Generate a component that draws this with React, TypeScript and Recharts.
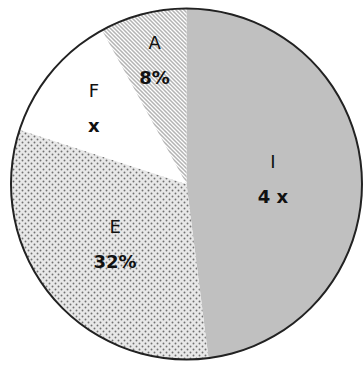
import React from 'react';
import { PieChart, Pie, Cell } from 'recharts';

const categories = ['I', 'E', 'F', 'A'];
const percents = [48, 32, 12, 8];
const valueLabels = ['4 x', '32%', 'x', '8%'];

const sliceFills: Record<string, string> = {
  I: '#c0c0c0',
  E: 'url(#dots)',
  F: '#ffffff',
  A: 'url(#hatch)',
};

const data = categories.map((name, i) => ({ name, value: percents[i], label: valueLabels[i] }));
const ring = [{ name: 'outline', value: 1 }];

const RAD = Math.PI / 180;

const renderLabel = (props: any) => {
  const { cx, cy, midAngle, outerRadius, percent, payload } = props;
  const p = percent;
  const r = outerRadius * (0.838 - 1.48 * p + 1.584 * p * p);
  const x = cx + r * Math.cos(-midAngle * RAD);
  const y = cy + r * Math.sin(-midAngle * RAD);
  const name = payload?.name ?? props.name;
  const lab = payload?.label ?? '';
  return (
    <g>
      <text x={x} y={y - 10.5} textAnchor="middle" fontFamily="DejaVu Sans" fontSize={18} fill="#111">
        {name}
      </text>
      <text x={x} y={y + 24.5} textAnchor="middle" fontFamily="DejaVu Sans" fontSize={18} fontWeight="bold" fill="#111">
        {lab}
      </text>
    </g>
  );
};

export default function App() {
  return (
    <div style={{ position: 'absolute', left: 0, top: 0, background: '#fff' }}>
      <PieChart width={363} height={365} margin={{ top: 0, right: 0, bottom: 0, left: 0 }}>
        <defs>
          <pattern id="hatch" width="4" height="4" patternUnits="userSpaceOnUse">
            <rect width="4" height="4" fill="#b4b4b4" />
            <path d="M-1,-1 L5,5 M3,-1 L5,1 M-1,3 L1,5" stroke="#ffffff" strokeWidth="1.3" />
          </pattern>
          <pattern id="dots" width="6" height="6" patternUnits="userSpaceOnUse">
            <rect width="6" height="6" fill="#e8e8e8" />
            <circle cx="1.5" cy="1.5" r="0.95" fill="#707070" />
            <circle cx="4.5" cy="4.5" r="0.95" fill="#707070" />
          </pattern>
        </defs>
        <Pie
          data={data}
          dataKey="value"
          nameKey="name"
          cx={186.5}
          cy={184}
          outerRadius={176}
          startAngle={90}
          endAngle={-270}
          stroke="none"
          label={renderLabel}
          labelLine={false}
          isAnimationActive={false}
        >
          {data.map((d) => (
            <Cell key={d.name} fill={sliceFills[d.name]} stroke="none" />
          ))}
        </Pie>
        <Pie
          data={ring}
          dataKey="value"
          cx={186.5}
          cy={184}
          innerRadius={174.5}
          outerRadius={176.5}
          startAngle={90}
          endAngle={-270}
          fill="#222"
          stroke="none"
          isAnimationActive={false}
        />
      </PieChart>
    </div>
  );
}
